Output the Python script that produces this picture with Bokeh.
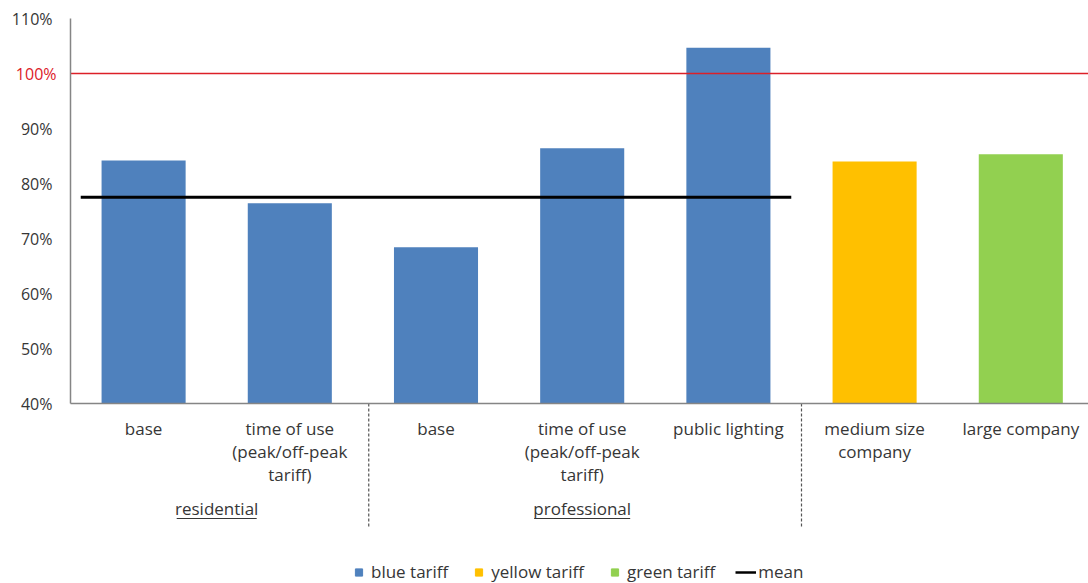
from bokeh.plotting import figure
from bokeh.models import (Range1d, FixedTicker, PrintfTickFormatter,
                          ColumnDataSource, Legend, LegendItem)
from bokeh.core.properties import value
from bokeh.embed import file_html
from bokeh.resources import INLINE

# ---- data -------------------------------------------------------------
categories = [
    "base",
    "time of use\n(peak/off-peak\ntariff)",
    "base",
    "time of use\n(peak/off-peak\ntariff)",
    "public lighting",
    "medium size\ncompany",
    "large company",
]
tariffs = ["blue tariff", "blue tariff", "blue tariff", "blue tariff",
           "blue tariff", "yellow tariff", "green tariff"]
values = [84.2, 76.4, 68.4, 86.4, 104.7, 84.0, 85.3]   # percent
mean_value = 77.5
reference_level = 100
groups = ["residential", "professional"]
group_members = [[0, 1], [2, 3, 4]]
y_ticks = [40, 50, 60, 70, 80, 90, 100, 110]
y_min, y_max = 40, 110

# ---- styling / geometry -----------------------------------------------
tariff_colors = {"blue tariff": "#4f81bd", "yellow tariff": "#ffc000",
                 "green tariff": "#92d050"}
FONT = "Open Sans"
TEXT = "#363636"
RED = "#dc2028"
W, H = 1088, 583
LEFT = 70            # pixels left of the first category slot
SLOT = 146.2         # pixels per category
TOP = 18             # pixel row of the top tick
BASE = 403           # pixel row of the baseline
PX_PER_PCT = (BASE - TOP) / (y_max - y_min)

X0 = -0.5 - LEFT / SLOT
X_END = X0 + W / SLOT
Y_TOP = y_max + TOP / PX_PER_PCT
Y_BOT = y_min - (H - BASE) / PX_PER_PCT


def row(py):
    """y value of a pixel row below/above the plotting area."""
    return y_min + (BASE - py) / PX_PER_PCT


# ---- figure -----------------------------------------------------------
p = figure(width=W, height=H, output_backend="svg", toolbar_location=None,
           x_range=Range1d(X0, X_END), y_range=Range1d(Y_BOT, Y_TOP),
           min_border_left=0, min_border_right=0, min_border_top=0,
           min_border_bottom=0)
p.outline_line_color = None
p.grid.visible = False

xs = list(range(len(values)))
src = ColumnDataSource(dict(
    x=xs, top=values, color=[tariff_colors[t] for t in tariffs]))
p.vbar(x="x", top="top", bottom=y_min, width=0.575, fill_color="color",
       line_color=None, source=src)

# 100 % reference line
p.line(x=[-0.5, X_END], y=[reference_level, reference_level],
       line_color=RED, line_width=1.5)

# mean line over the first five bars
p.line(x=[-0.43, 4.43], y=[mean_value, mean_value],
       line_color="black", line_width=3)

# axes
ya = p.yaxis[0]
ya.fixed_location = -0.5
ya.bounds = (y_min, y_max)
ya.ticker = FixedTicker(ticks=y_ticks)
ya.formatter = PrintfTickFormatter(format="%d%%")
ya.major_label_overrides = {reference_level: ""}
ya.axis_line_color = "#858585"
ya.axis_line_width = 1.5
ya.major_tick_line_color = None
ya.minor_tick_line_color = None
ya.major_tick_out = 0
ya.major_tick_in = 0
ya.major_label_standoff = 18
ya.major_label_text_font = FONT
ya.major_label_text_font_size = "16px"
ya.major_label_text_color = TEXT

xa = p.xaxis[0]
xa.fixed_location = y_min
xa.bounds = (-0.5, X_END)
xa.ticker = FixedTicker(ticks=[])
xa.axis_line_color = "#858585"
xa.axis_line_width = 1.5
xa.major_tick_line_color = None
xa.minor_tick_line_color = None
xa.major_tick_out = 0
xa.major_tick_in = 0
xa.major_label_standoff = 0

# red tick label for the 100 % level
p.text(x=[-0.5 - 14 / SLOT], y=[reference_level],
       text=[f"{reference_level}%"], text_align="right",
       text_baseline="middle", text_font=value(FONT),
       text_font_size="16px", text_color=RED)

# category labels (one text row per line)
lx, ly, lt = [], [], []
for i, cat in enumerate(categories):
    for k, line in enumerate(cat.split("\n")):
        lx.append(i)
        ly.append(row(428 + 23 * k))
        lt.append(line)
p.text(x=lx, y=ly, text=lt, text_align="center", text_baseline="middle",
       text_font=value(FONT), text_font_size="17px", text_color=TEXT)

# underlined group labels
gx = [sum(m) / len(m) for m in group_members]
p.text(x=gx, y=[row(508)] * len(groups), text=groups, text_align="center",
       text_baseline="middle", text_font=value(FONT), text_font_size="17px",
       text_color=TEXT)
half_w = [40 / SLOT, 48 / SLOT]
p.segment(x0=[g - h for g, h in zip(gx, half_w)],
          x1=[g + h for g, h in zip(gx, half_w)],
          y0=[row(518)] * len(groups), y1=[row(518)] * len(groups),
          line_color=TEXT, line_width=1)

# dashed separators between customer segments
sep_x = [1.54, 4.5]
p.segment(x0=sep_x, x1=sep_x, y0=[y_min] * 2, y1=[row(526)] * 2,
          line_color="#555555", line_width=1.2, line_dash="3 2")

# legend swatches (renderers placed outside the visible area)
items = []
for name in ["blue tariff", "yellow tariff", "green tariff"]:
    r = p.scatter(x=[-100], y=[-100], marker="square", size=8,
                  fill_color=tariff_colors[name],
                  line_color=tariff_colors[name])
    items.append(LegendItem(label=name, renderers=[r]))
rm = p.line(x=[-100, -99], y=[-100, -100], line_color="black", line_width=2.5)
items.append(LegendItem(label="mean", renderers=[rm]))

legend = Legend(items=items, orientation="horizontal", location=(348, 0),
                glyph_width=21, glyph_height=18, label_height=18,
                label_standoff=2, spacing=20, padding=0, margin=0,
                border_line_color=None, background_fill_alpha=0,
                label_text_font=FONT, label_text_font_size="17px",
                label_text_color=TEXT)
p.add_layout(legend)

open("out.html", "w").write(file_html(p, INLINE))
